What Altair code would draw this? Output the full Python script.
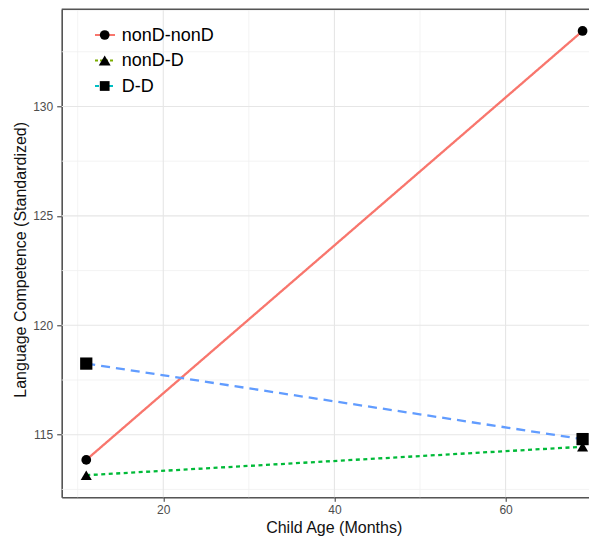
import altair as alt
import pandas as pd

# ---- data ----
ages = [11, 69]
group_names = ["nonD-nonD", "nonD-D", "D-D"]
nonD_nonD = [113.85, 133.45]
nonD_D = [113.15, 114.45]
D_D = [118.25, 114.8]

line_colors = ["#F8766D", "#00BA38", "#619CFF"]
legend_colors = ["#F8766D", "#7CAE00", "#00BFC4"]
shapes = ["circle", "triangle-up", "square"]

x_ticks = [20, 40, 60]
x_minor = [10, 30, 50, 70]
y_ticks = [115, 120, 125, 130]
y_minor = [112.5, 117.5, 122.5, 127.5, 132.5]

x_domain = [8.13, 69.75]
y_domain = [112.14, 134.44]

FONT = "Liberation Sans"
W, H = 527.3, 488

rows = []
for name, vals in zip(group_names, [nonD_nonD, nonD_D, D_D]):
    for a, v in zip(ages, vals):
        rows.append({"age": a, "score": v, "group": name})
df = pd.DataFrame(rows)

xs = alt.Scale(domain=x_domain, nice=False, zero=False)
ys = alt.Scale(domain=y_domain, nice=False, zero=False)

x_axis = alt.Axis(
    values=x_ticks, grid=False, title="Child Age (Months)",
    labelFont=FONT, labelFontSize=12, labelColor="#4d4d4d",
    tickColor="#333333", tickSize=4, tickWidth=1, labelPadding=3,
    domainColor="#555555", domainWidth=1.6,
    titleFont=FONT, titleFontSize=16, titleColor="#111111", titleFontWeight="normal",
    titleBaseline="alphabetic", titleX=272, titleY=35, titleAnchor="middle", titleAlign="center",
)
y_axis = alt.Axis(
    values=y_ticks, grid=False, title="Language Competence (Standardized)",
    labelFont=FONT, labelFontSize=12, labelColor="#4d4d4d",
    tickColor="#333333", tickSize=5, tickWidth=1, labelPadding=4,
    domainColor="#555555", domainWidth=1.6,
    titleFont=FONT, titleFontSize=16, titleColor="#111111", titleFontWeight="normal",
    titleBaseline="alphabetic", titleX=-36.7, titleY=250, titleAngle=-90, titleAnchor="middle", titleAlign="center",
)

X = lambda f: alt.X(f, scale=xs, axis=x_axis)
Y = lambda f: alt.Y(f, scale=ys, axis=y_axis)

# grid lines
minor_x = alt.Chart(pd.DataFrame({"v": x_minor})).mark_rule(color="#f0f0f0", strokeWidth=0.8).encode(x=X("v:Q"))
minor_y = alt.Chart(pd.DataFrame({"v": y_minor})).mark_rule(color="#f0f0f0", strokeWidth=0.8).encode(y=Y("v:Q"))
major_x = alt.Chart(pd.DataFrame({"v": x_ticks})).mark_rule(color="#e6e6e6", strokeWidth=1.1).encode(x=X("v:Q"))
major_y = alt.Chart(pd.DataFrame({"v": y_ticks})).mark_rule(color="#e6e6e6", strokeWidth=1.1).encode(y=Y("v:Q"))

top_frame = alt.Chart(pd.DataFrame({"v": [0]})).mark_rule(color="#555555", strokeWidth=1.6).encode(
    x=alt.value(0), x2=alt.value(W), y=alt.value(0))

lines = alt.Chart(df).mark_line(strokeWidth=2.3).encode(
    x=X("age:Q"),
    y=Y("score:Q"),
    color=alt.Color("group:N", scale=alt.Scale(domain=group_names, range=line_colors), legend=None),
    strokeDash=alt.StrokeDash("group:N", scale=alt.Scale(domain=group_names, range=[[1, 0], [4, 3.5], [9, 6]]), legend=None),
    detail="group:N",
)

points = alt.Chart(df).mark_point(filled=True, opacity=1, color="black").encode(
    x=X("age:Q"),
    y=Y("score:Q"),
    shape=alt.Shape("group:N", scale=alt.Scale(domain=group_names, range=shapes), legend=None),
    size=alt.Size("group:N", scale=alt.Scale(domain=group_names, range=[95, 150, 95]), legend=None),
)

# manual legend (inside the panel, top-left)
legend_y = [25.7, 51.2, 76.7]
legend_dash = [[1, 0], [3, 2], [4, 3]]
legend_layers = []
for i, name in enumerate(group_names):
    one = pd.DataFrame({"label": [name]})
    legend_layers.append(
        alt.Chart(one).mark_rule(color=legend_colors[i], strokeWidth=1.8, strokeDash=legend_dash[i]).encode(
            x=alt.value(33.3), x2=alt.value(53.3), y=alt.value(legend_y[i]))
    )
    legend_layers.append(
        alt.Chart(one).mark_point(filled=True, opacity=1, color="black", shape=shapes[i],
                                  size=[95, 140, 95][i]).encode(
            x=alt.value(43), y=alt.value(legend_y[i]))
    )
    legend_layers.append(
        alt.Chart(one).mark_text(align="left", baseline="middle", font=FONT, fontSize=18, color="black").encode(
            x=alt.value(60), y=alt.value(legend_y[i] + 0.5), text="label:N")
    )

chart = alt.layer(
    minor_x, minor_y, major_x, major_y, lines, points, top_frame, *legend_layers
).properties(
    width=W, height=H,
    padding={"left": 53.7, "top": 1.3, "right": 0, "bottom": 38.7},
    autosize=alt.AutoSizeParams(type="none"),
).configure_view(stroke=None).configure(background="white")

chart.save("out.html", embed_options={"renderer": "svg", "actions": False})
